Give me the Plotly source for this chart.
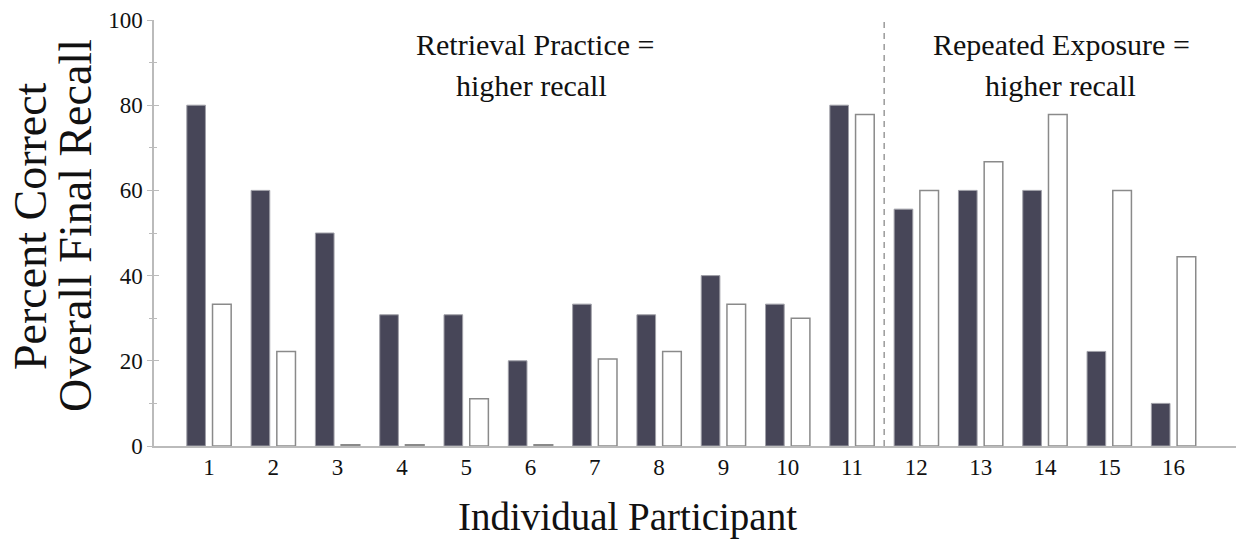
import plotly.graph_objects as go

participants = list(range(1, 17))
tick_labels = [str(p) for p in participants]
retrieval_practice = [80, 60, 50, 30.8, 30.8, 20, 33.3, 30.8, 40, 33.3, 80, 55.6, 60, 60, 22.2, 10]
repeated_exposure = [33.3, 22.2, 0.3, 0.3, 11.1, 0.3, 20.4, 22.2, 33.3, 30, 77.8, 60, 66.7, 77.8, 60, 44.4]
y_ticks = [0, 20, 40, 60, 80, 100]
divider_x = 11.5

FONT = "Liberation Serif"
DARK = "#474658"

fig = go.Figure()
fig.add_trace(go.Bar(
    x=participants, y=retrieval_practice, name="Retrieval Practice",
    width=0.29, offset=-0.345,
    marker=dict(color=DARK, line=dict(color="#a0a0a8", width=1)),
))
fig.add_trace(go.Bar(
    x=participants, y=repeated_exposure, name="Repeated Exposure",
    width=0.29, offset=0.055,
    marker=dict(color="white", line=dict(color="#8a8a8a", width=1.5)),
))
# invisible trace to activate the inner-tick overlay axis
fig.add_trace(go.Scatter(x=[1], y=[0], yaxis="y2", mode="markers",
                         marker=dict(opacity=0), hoverinfo="skip", showlegend=False))

fig.add_shape(type="line", xref="x", yref="y", x0=divider_x, x1=divider_x, y0=0, y1=100,
              line=dict(color="#9a9a9a", width=1.5, dash="6px,5px"))

ann_font = dict(family=FONT, size=30, color="#111")
fig.add_annotation(x=6.07, y=94.3, xref="x", yref="y", text="Retrieval Practice =",
                   showarrow=False, font=ann_font, xanchor="center", yanchor="middle")
fig.add_annotation(x=6.02, y=84.7, xref="x", yref="y", text="higher recall",
                   showarrow=False, font=ann_font, xanchor="center", yanchor="middle")
fig.add_annotation(x=14.26, y=94.3, xref="x", yref="y", text="Repeated Exposure =",
                   showarrow=False, font=ann_font, xanchor="center", yanchor="middle")
fig.add_annotation(x=14.24, y=84.7, xref="x", yref="y", text="higher recall",
                   showarrow=False, font=ann_font, xanchor="center", yanchor="middle")

fig.add_annotation(x=7.51, y=-0.167, xref="x", yref="paper", text="Individual Participant",
                   showarrow=False, font=dict(family=FONT, size=39, color="#111"),
                   xanchor="center", yanchor="middle")
fig.add_annotation(x=-0.1139, y=0.5164, xref="paper", yref="paper", text="Percent Correct",
                   showarrow=False, textangle=-90, font=dict(family=FONT, size=46, color="#111"),
                   xanchor="center", yanchor="middle")
fig.add_annotation(x=-0.0725, y=0.5164, xref="paper", yref="paper", text="Overall Final Recall",
                   showarrow=False, textangle=-90, font=dict(family=FONT, size=46, color="#111"),
                   xanchor="center", yanchor="middle")

fig.update_layout(
    width=1236, height=536,
    margin=dict(l=146, r=1, t=12, b=98),
    paper_bgcolor="white", plot_bgcolor="white",
    showlegend=False, barmode="overlay",
    xaxis=dict(range=[0.145, 17.08], tickmode="array", tickvals=participants, ticktext=tick_labels,
               showline=True, linecolor="#bbbbbb", linewidth=1.5, showgrid=False, zeroline=False,
               ticks="", tickfont=dict(family=FONT, size=23, color="#111")),
    yaxis=dict(range=[0, 100], tickvals=y_ticks, showline=True, linecolor="#bbbbbb", linewidth=1.5,
               showgrid=False, zeroline=False, ticks="outside", ticklen=5, tickcolor="#bbbbbb",
               tickwidth=1.2, tickfont=dict(family=FONT, size=23, color="#111"),
               minor=dict(dtick=10, ticks="outside", ticklen=3, tickcolor="#bbbbbb", tickwidth=1)),
    yaxis2=dict(range=[0, 100], overlaying="y", side="left", tickvals=y_ticks, showticklabels=False,
                showgrid=False, zeroline=False, ticks="inside", ticklen=5, tickcolor="#bbbbbb",
                tickwidth=1.2,
                minor=dict(dtick=10, ticks="inside", ticklen=3, tickcolor="#bbbbbb", tickwidth=1)),
)

fig.write_html("out.html")
